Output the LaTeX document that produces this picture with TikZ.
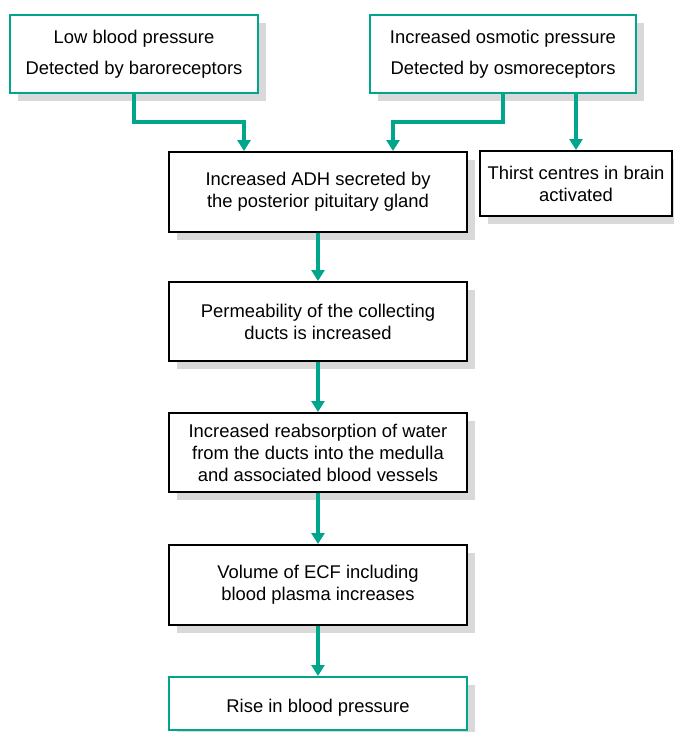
\documentclass[tikz,border=0pt]{standalone}
\usepackage{fontspec}
\setmainfont{Liberation Sans}
\usetikzlibrary{arrows.meta,shadows}
\definecolor{teal}{RGB}{0,166,140}
\definecolor{shade}{RGB}{217,217,217}
\tikzset{
  box/.style={draw=black, line width=2pt, fill=white, rectangle, inner sep=2pt,
    align=center, font=\fontsize{18.4}{22}\selectfont,
    execute at begin node={\rule{0pt}{21pt}},
    drop shadow={shadow xshift=8pt, shadow yshift=-8pt, fill=shade, opacity=1}},
  tbox/.style={box, draw=teal},
  arr/.style={draw=teal, line width=4pt, -{Triangle[width=13pt,length=11pt]}},
}
\begin{document}
\begin{tikzpicture}[x=1pt,y=-1pt]
\useasboundingbox (0,0) rectangle (674,732);
\node[tbox, minimum width=248pt, minimum height=78pt, font=\fontsize{18.4}{31}\selectfont] (low) at (134,54) {Low blood pressure\\Detected by baroreceptors};
\node[tbox, minimum width=266pt, minimum height=78pt, font=\fontsize{18.4}{31}\selectfont] (osm) at (503,54) {Increased osmotic pressure\\Detected by osmoreceptors};
\node[box, minimum width=298pt, minimum height=80pt] (adh) at (318,192) {Increased ADH secreted by\\the posterior pituitary gland};
\node[box, minimum width=192pt, minimum height=65pt] (thirst) at (576,183.5) {Thirst centres in brain\\activated};
\node[box, minimum width=298pt, minimum height=79pt] (perm) at (318,321.5) {Permeability of the collecting\\ducts is increased};
\node[box, minimum width=298pt, minimum height=79pt] (reab) at (318,452.5) {Increased reabsorption of water\\from the ducts into the medulla\\and associated blood vessels};
\node[box, minimum width=298pt, minimum height=80pt] (vol) at (318,585) {Volume of ECF including\\blood plasma increases};
\node[tbox, minimum width=298pt, minimum height=53pt] (rise) at (318,703.5) {Rise in blood pressure};
\coordinate (j1) at (244,122);
\coordinate (j2) at (393,122);
\draw[arr] (low.south) |- (j1) -- (adh.north -| j1);
\draw[arr] (osm.south) |- (j2) -- (adh.north -| j2);
\draw[arr] (osm.south -| thirst.north) -- (thirst.north);
\draw[arr] (adh) -- (perm);
\draw[arr] (perm) -- (reab);
\draw[arr] (reab) -- (vol);
\draw[arr] (vol) -- (rise);
\end{tikzpicture}
\end{document}
